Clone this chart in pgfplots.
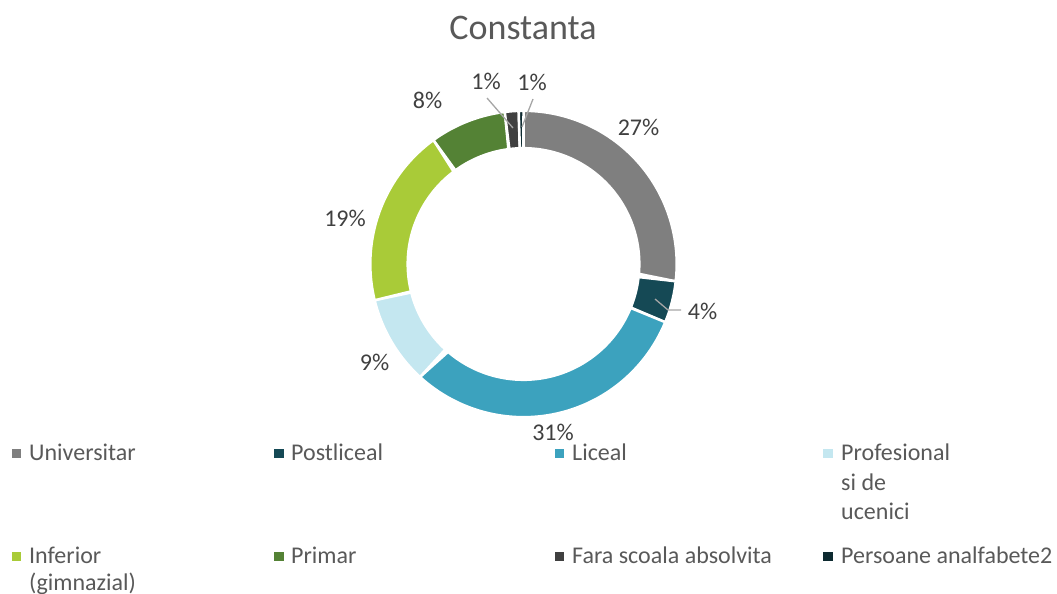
\documentclass[border=0pt]{standalone}
\usepackage{pgfplots}
\pgfplotsset{compat=1.18}
\usepackage{fontspec}
\setmainfont{Carlito}
\definecolor{cUni}{HTML}{7F7F7F}
\definecolor{cPost}{HTML}{154955}
\definecolor{cLic}{HTML}{3CA2BE}
\definecolor{cProf}{HTML}{C4E7F0}
\definecolor{cInf}{HTML}{A9CB38}
\definecolor{cPrim}{HTML}{548235}
\definecolor{cFara}{HTML}{404040}
\definecolor{cAnalf}{HTML}{0D2A30}
\definecolor{txt}{HTML}{595959}
\definecolor{lbl}{HTML}{404040}
\definecolor{lead}{HTML}{A6A6A6}
% radius along the closed outline of one ring segment (t in [0,3])
\newcommand\Rexp{((\t<=1)?153.2:((\t<=2)?115.8:(115.8+37.4*(\t-2))))}
% angle (clockwise from top) along the outline; #1,#2 = start/end share in percent
\newcommand\Aexp[2]{(3.6*((\t<=1)?(#1+(#2-#1)*\t):((\t<=2)?(#2-(#2-#1)*(\t-1)):#1)))}
\newcommand\slice[3]{%
\addplot[fill=#1, draw=white, line width=2.5bp, line join=round, domain=0:3, samples=181, variable=\t]
 ({523.5+\Rexp*sin(\Aexp{#2}{#3})},{264-\Rexp*cos(\Aexp{#2}{#3})});
}
\newcommand\lfont{\fontsize{24bp}{29bp}\selectfont}
\begin{document}
\begin{tikzpicture}
\begin{axis}[at={(0,0)}, anchor=south west, scale only axis,
  width=1057bp, height=594bp, xmin=0, xmax=1057, ymin=0, ymax=594,
  y dir=reverse, hide axis, clip=false]
% shares (%): Universitar 26.8, Postliceal 4.4, Liceal 30.6, Profesional 9.4,
% Inferior 18.8, Primar 8.05, Fara scoala 1.45, Analfabete 0.5 (cumulative below)
\slice{cUni}{0}{26.8}
\slice{cPost}{26.8}{31.2}
\slice{cLic}{31.2}{61.8}
\slice{cProf}{61.8}{71.2}
\slice{cInf}{71.2}{90.0}
\slice{cPrim}{90.0}{98.05}
\slice{cFara}{98.05}{99.5}
\slice{cAnalf}{99.5}{100}
% leader lines
\addplot[lead, line width=1.3bp] coordinates {(487,98) (513,128)};
\addplot[lead, line width=1.3bp] coordinates {(533,99) (522,127)};
\addplot[lead, line width=1.3bp] coordinates {(655,299) (668,310) (681,310)};
% data labels
\node[lbl, font=\lfont] at (axis cs:638.5,127) {27\%};
\node[lbl, font=\lfont] at (axis cs:702.5,311) {4\%};
\node[lbl, font=\lfont] at (axis cs:553,432) {31\%};
\node[lbl, font=\lfont] at (axis cs:374.5,362.5) {9\%};
\node[lbl, font=\lfont] at (axis cs:345,218) {19\%};
\node[lbl, font=\lfont] at (axis cs:427.5,100) {8\%};
\node[lbl, font=\lfont] at (axis cs:486,81.5) {1\%};
\node[lbl, font=\lfont] at (axis cs:532,82) {1\%};
% title
\node[txt, font=\fontsize{36bp}{40bp}\selectfont, anchor=base] at (axis cs:523,40) {Constanta};
% legend markers
\addplot[only marks, mark=square*, mark size=4.2bp, cUni] coordinates {(16,453)};
\addplot[only marks, mark=square*, mark size=4.2bp, cPost] coordinates {(278.5,453)};
\addplot[only marks, mark=square*, mark size=4.2bp, cLic] coordinates {(559,453)};
\addplot[only marks, mark=square*, mark size=4.2bp, cProf] coordinates {(827.5,453)};
\addplot[only marks, mark=square*, mark size=4.2bp, cInf] coordinates {(16,556)};
\addplot[only marks, mark=square*, mark size=4.2bp, cPrim] coordinates {(278.5,556)};
\addplot[only marks, mark=square*, mark size=4.2bp, cFara] coordinates {(559,556)};
\addplot[only marks, mark=square*, mark size=4.2bp, cAnalf] coordinates {(827.5,556)};
% legend texts
\node[txt, font=\lfont, anchor=base west, inner sep=0pt] at (axis cs:29,460) {Universitar};
\node[txt, font=\lfont, anchor=base west, inner sep=0pt] at (axis cs:291,460) {Postliceal};
\node[txt, font=\lfont, anchor=base west, inner sep=0pt] at (axis cs:572,460) {Liceal};
\node[txt, font=\lfont, anchor=base west, inner sep=0pt] at (axis cs:841,460) {Profesional};
\node[txt, font=\lfont, anchor=base west, inner sep=0pt] at (axis cs:841,490) {si de};
\node[txt, font=\lfont, anchor=base west, inner sep=0pt] at (axis cs:841,519) {ucenici};
\node[txt, font=\lfont, anchor=base west, inner sep=0pt] at (axis cs:29,563) {Inferior};
\node[txt, font=\lfont, anchor=base west, inner sep=0pt] at (axis cs:29,590) {(gimnazial)};
\node[txt, font=\lfont, anchor=base west, inner sep=0pt] at (axis cs:291,563) {Primar};
\node[txt, font=\lfont, anchor=base west, inner sep=0pt] at (axis cs:572,563) {Fara scoala absolvita};
\node[txt, font=\lfont, anchor=base west, inner sep=0pt] at (axis cs:841,563) {Persoane analfabete2};
\end{axis}
\pgfresetboundingbox
\useasboundingbox (0,0) rectangle (1057bp,594bp);
\end{tikzpicture}
\end{document}
